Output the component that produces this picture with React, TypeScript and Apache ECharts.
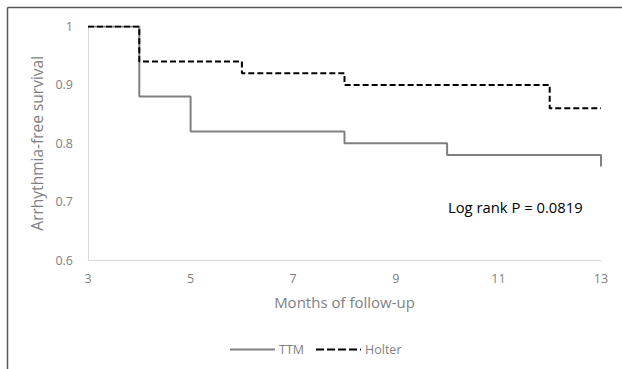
import React, { useEffect, useRef } from "react";
import * as echarts from "echarts";

const ttmData: [number, number][] = [[3, 1], [4, 0.88], [5, 0.82], [8, 0.80], [10, 0.78], [13, 0.78], [13, 0.76]];
const holterData: [number, number][] = [[3, 1], [4, 0.94], [6, 0.92], [8, 0.90], [12, 0.86], [13, 0.86]];
const seriesNames = ["TTM", "Holter"];
const annotation = "Log rank P = 0.0819";

export default function App() {
  const ref = useRef<HTMLDivElement>(null);
  useEffect(() => {
    if (!ref.current) return;
    const chart = echarts.init(ref.current, null, { renderer: "svg" });
    const font = "'Open Sans', sans-serif";
    chart.setOption({
      animation: false,
      backgroundColor: "#ffffff",
      textStyle: { fontFamily: font },
      grid: { left: 88, right: 21, top: 26.5, bottom: 109, containLabel: false },
      xAxis: {
        type: "value",
        min: 3,
        max: 13,
        interval: 2,
        name: "Months of follow-up",
        nameLocation: "middle",
        nameGap: 34,
        nameTextStyle: { color: "#7f7f7f", fontSize: 15, fontFamily: font },
        axisLine: { show: true, lineStyle: { color: "#d9d9d9", width: 1 } },
        axisTick: { show: false },
        splitLine: { show: false },
        axisLabel: { color: "#7f7f7f", fontSize: 12.5, margin: 12, fontFamily: font },
      },
      yAxis: {
        type: "value",
        min: 0.6,
        max: 1,
        interval: 0.1,
        name: "Arrhythmia-free survival",
        nameLocation: "middle",
        nameGap: 41,
        nameTextStyle: { color: "#7f7f7f", fontSize: 15.5, fontFamily: font },
        axisLine: { show: true, lineStyle: { color: "#d9d9d9", width: 1 } },
        axisTick: { show: false },
        splitLine: { show: false },
        axisLabel: { color: "#7f7f7f", fontSize: 12.5, margin: 15, fontFamily: font },
      },
      legend: {
        bottom: 8,
        left: 225,
        itemWidth: 45,
        itemHeight: 10,
        itemGap: 12,
        textStyle: { color: "#7f7f7f", fontSize: 12.5, fontFamily: font, padding: [0, 0, 0, -1] },
        data: [
          { name: seriesNames[0], icon: "path://M0,4 L45,4 L45,6 L0,6 Z", itemStyle: { color: "#808080" } },
          {
            name: seriesNames[1],
            icon: "path://M0,4 L8,4 L8,6 L0,6 Z M11,4 L19,4 L19,6 L11,6 Z M22,4 L30,4 L30,6 L22,6 Z M33,4 L41,4 L41,6 L33,6 Z M44,4 L45,4 L45,6 L44,6 Z",
            itemStyle: { color: "#000000" },
          },
        ],
      },
      series: [
        {
          name: seriesNames[0],
          type: "line",
          step: "end",
          data: ttmData,
          showSymbol: false,
          symbol: "none",
          lineStyle: { color: "#808080", width: 2 },
          itemStyle: { color: "#808080" },
        },
        {
          name: seriesNames[1],
          type: "line",
          step: "end",
          data: holterData,
          showSymbol: false,
          symbol: "none",
          lineStyle: { color: "#000000", width: 2, type: [6, 3] },
          itemStyle: { color: "#000000" },
        },
      ],
      graphic: [
        { type: "line", shape: { x1: 7.5, y1: 7.5, x2: 622, y2: 7.5 }, style: { stroke: "#595959", lineWidth: 1.5 } },
        { type: "line", shape: { x1: 7.5, y1: 7.5, x2: 7.5, y2: 369 }, style: { stroke: "#595959", lineWidth: 1.5 } },
        {
          type: "text",
          left: 448,
          top: 199,
          style: { text: annotation, fill: "#000000", fontSize: 14.8, fontFamily: font },
        },
      ],
    });
    return () => chart.dispose();
  }, []);
  return <div ref={ref} style={{ position: "fixed", left: 0, top: 0, width: 622, height: 369 }} />;
}
